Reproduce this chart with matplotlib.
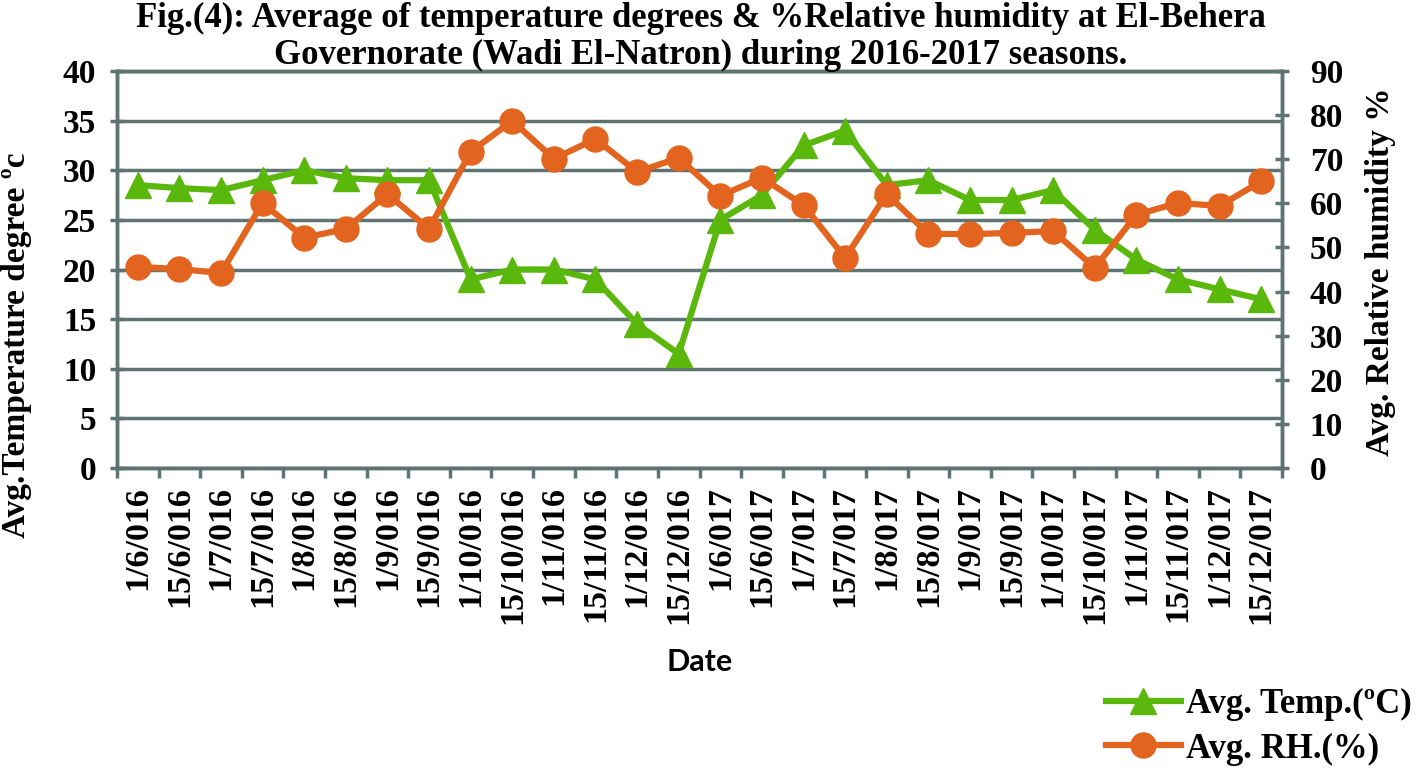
import matplotlib
matplotlib.use("Agg")
import matplotlib.pyplot as plt
import numpy as np

dates = ["1/6/016", "15/6/016", "1/7/016", "15/7/016", "1/8/016", "15/8/016", "1/9/016",
         "15/9/016", "1/10/016", "15/10/016", "1/11/016", "15/11/016", "1/12/016", "15/12/016",
         "1/6/017", "15/6/017", "1/7/017", "15/7/017", "1/8/017", "15/8/017", "1/9/017",
         "15/9/017", "1/10/017", "15/10/017", "1/11/017", "15/11/017", "1/12/017", "15/12/017"]
temp = [28.5, 28.2, 28.0, 29.0, 30.0, 29.2, 29.0, 29.0, 19.0, 20.0, 20.0, 19.0, 14.5, 11.5,
        25.0, 27.5, 32.5, 34.0, 28.5, 29.0, 27.0, 27.0, 28.0, 24.0, 21.0, 19.0, 18.0, 17.0]
rh = [45.6, 45.1, 44.2, 60.1, 52.2, 54.2, 62.1, 54.2, 71.7, 78.7, 70.1, 74.6, 67.1, 70.3,
      61.7, 65.8, 59.6, 47.6, 62.1, 53.1, 53.0, 53.3, 53.7, 45.4, 57.4, 60.1, 59.4, 65.0]
temp_ticks = list(range(0, 41, 5))
rh_ticks = list(range(0, 91, 10))

serif = ["Liberation Serif", "DejaVu Serif"]
green = "#5AB80C"
orange = "#E2641E"
gridc = "#5F7373"

W, H = 1418, 769
fig = plt.figure(figsize=(W / 100, H / 100), dpi=100)
ax = fig.add_axes([117 / W, 1 - 468 / H, (1282 - 117) / W, (468 - 71) / H])
ax2 = ax.twinx()

x = np.arange(len(dates))
l1, = ax.plot(x, temp, color=green, lw=4.5, marker="^", markersize=19, label="Avg. Temp.(ºC)", zorder=3)
l2, = ax2.plot(x, rh, color=orange, lw=4.5, marker="o", markersize=18, label="Avg. RH.(%)", zorder=3)

ax.set_xlim(-0.5, len(dates) - 0.5)
ax.set_ylim(0, 40)
ax2.set_ylim(0, 90)
ax.set_yticks(temp_ticks)
ax2.set_yticks(rh_ticks)
ax.yaxis.grid(True, color=gridc, lw=2.5)
ax.set_axisbelow(True)

ax.set_xticks(x)
ax.set_xticklabels(dates, rotation=90, fontfamily=serif, fontweight="bold", fontsize=24.5)
ax.set_xticks(np.arange(-0.5, len(dates), 1), minor=True)
ax.tick_params(axis="x", which="major", length=0, pad=13)
ax.tick_params(axis="x", which="minor", length=7, width=2.5, color=gridc)
ax.tick_params(axis="y", direction="inout", length=10, width=2.5, color=gridc, pad=10)
ax2.tick_params(axis="y", direction="inout", length=10, width=2.5, color=gridc, pad=15)
for a in (ax, ax2):
    for lab in a.get_yticklabels():
        lab.set_fontfamily(serif)
        lab.set_fontweight("bold")
        lab.set_fontsize(24)
    for s in a.spines.values():
        s.set_color(gridc)
        s.set_linewidth(2.5)

fig.text(17 / W, 1 - 345 / H, "Avg.Temperature degree ºc", rotation=90, ha="center", va="center",
         fontfamily=serif, fontweight="bold", fontsize=24)
fig.text(1380 / W, 1 - 272 / H, "Avg. Relative humidity %", rotation=90, ha="center", va="center",
         fontfamily=serif, fontweight="bold", fontsize=24)
fig.text(700 / W, 1 - 662 / H, "Date", ha="center", va="center",
         fontfamily=["Lato", "DejaVu Sans"], fontweight="bold", fontsize=22)

fig.text(701 / W, 1 - 27 / H, "Fig.(4): Average of temperature degrees & %Relative humidity at El-Behera",
         ha="center", va="baseline", fontfamily=serif, fontweight="bold", fontsize=25)
fig.text(701 / W, 1 - 64 / H, "Governorate (Wadi El-Natron) during 2016-2017 seasons.",
         ha="center", va="baseline", fontfamily=serif, fontweight="bold", fontsize=25)

fig.legend(handles=[l1, l2], loc="center left", bbox_to_anchor=(1106 / W, 1 - 727 / H), frameon=False,
           prop={"family": serif, "weight": "bold", "size": 25}, handlelength=2.15, handletextpad=0.15,
           labelspacing=0.32, borderaxespad=0, borderpad=0)

fig.savefig("out.png", dpi=100, facecolor="white")
